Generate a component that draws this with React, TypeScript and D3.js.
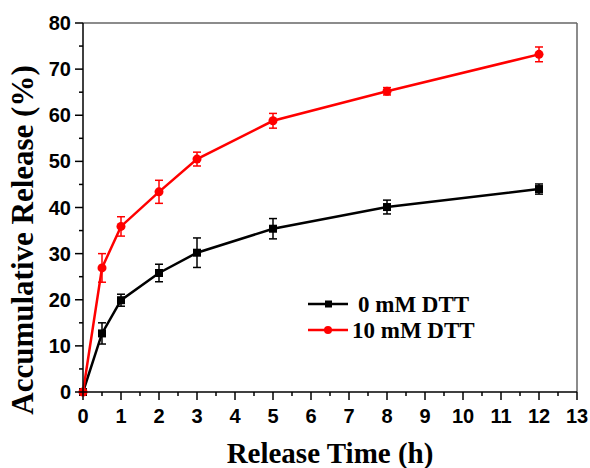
import React from "react";
import * as d3 from "d3";

const times = [0, 0.5, 1, 2, 3, 5, 8, 12];
const release0 = [0, 12.7, 19.9, 25.8, 30.2, 35.4, 40.1, 44.0];
const err0 = [0, 2.3, 1.3, 1.9, 3.2, 2.2, 1.5, 1.1];
const release10 = [0, 26.9, 35.9, 43.4, 50.5, 58.8, 65.2, 73.2];
const err10 = [0, 3.1, 2.1, 2.5, 1.5, 1.6, 0.8, 1.6];
const xTicks = d3.range(0, 14);
const yTicks = [0, 10, 20, 30, 40, 50, 60, 70, 80];
const seriesNames = ["0 mM DTT", "10 mM DTT"];
const colors = ["#000000", "#ff0000"];

const W = 590, H = 468;
const m = { left: 83, right: 13, top: 23, bottom: 76 };

export default function App() {
  const x = d3.scaleLinear().domain([0, 13]).range([m.left, W - m.right]);
  const y = d3.scaleLinear().domain([0, 80]).range([H - m.bottom, m.top]);
  const line = d3.line<number>().x((_, i) => x(times[i])).y(d => y(d));
  const series = [
    { vals: release0, errs: err0 },
    { vals: release10, errs: err10 },
  ];
  const tickFont = "Arial, 'Liberation Sans', sans-serif";
  const serif = "'Times New Roman', 'Liberation Serif', serif";
  const x0 = x(0), y0 = y(0);

  return (
    <svg width={W} height={H} style={{ position: "absolute", left: 0, top: 0, background: "#fff" }}>
      {/* frame */}
      <line x1={x0} x2={x(13)} y1={y(80)} y2={y(80)} stroke="#666" strokeWidth={1.5} />
      <line x1={x(13)} x2={x(13)} y1={y(80)} y2={y0} stroke="#666" strokeWidth={1.5} />

      {series.map((s, k) => (
        <g key={k}>
          <path d={line(s.vals) || ""} fill="none" stroke={colors[k]} strokeWidth={2.5} />
          {s.vals.map((v, i) =>
            s.errs[i] > 0 ? (
              <g key={i} stroke={colors[k]} strokeWidth={1.5}>
                <line x1={x(times[i])} x2={x(times[i])} y1={y(v - s.errs[i])} y2={y(v + s.errs[i])} />
                <line x1={x(times[i]) - 4} x2={x(times[i]) + 4} y1={y(v - s.errs[i])} y2={y(v - s.errs[i])} />
                <line x1={x(times[i]) - 4} x2={x(times[i]) + 4} y1={y(v + s.errs[i])} y2={y(v + s.errs[i])} />
              </g>
            ) : null
          )}
          {s.vals.map((v, i) =>
            k === 0 ? (
              <rect key={"m" + i} x={x(times[i]) - 4} y={y(v) - 4} width={8} height={8} fill={colors[k]} />
            ) : (
              <circle key={"m" + i} cx={x(times[i])} cy={y(v)} r={4.5} fill={colors[k]} />
            )
          )}
        </g>
      ))}

      {/* axes */}
      <line x1={x0} x2={x(13)} y1={y0} y2={y0} stroke="#000" strokeWidth={1.5} />
      <line x1={x0} x2={x0} y1={y0} y2={y(80)} stroke="#000" strokeWidth={1.5} />
      {xTicks.map(t => (
        <g key={t}>
          <line x1={x(t)} x2={x(t)} y1={y0} y2={y0 + 8} stroke="#000" strokeWidth={1.5} />
          {t < 13 && <line x1={x(t + 0.5)} x2={x(t + 0.5)} y1={y0} y2={y0 + 4} stroke="#000" strokeWidth={1.5} />}
          <text x={x(t)} y={y0 + 31} textAnchor="middle" fontFamily={tickFont} fontWeight="bold" fontSize={20}>{t}</text>
        </g>
      ))}
      {yTicks.map(t => (
        <g key={t}>
          <line x1={x0 - 8} x2={x0} y1={y(t)} y2={y(t)} stroke="#000" strokeWidth={1.5} />
          {t < 80 && <line x1={x0 - 4} x2={x0} y1={y(t + 5)} y2={y(t + 5)} stroke="#000" strokeWidth={1.5} />}
          <text x={x0 - 12} y={y(t) + 7} textAnchor="end" fontFamily={tickFont} fontWeight="bold" fontSize={20}>{t}</text>
        </g>
      ))}

      {/* titles */}
      <text x={330} y={463} textAnchor="middle" fontFamily={serif} fontWeight="bold" fontSize={29}>Release Time (h)</text>
      <text transform="translate(33,240) rotate(-90)" textAnchor="middle" fontFamily={serif} fontWeight="bold" fontSize={31}>Accumulative Release (%)</text>

      {/* legend */}
      {seriesNames.map((n, k) => {
        const ly = 304 + k * 26;
        return (
          <g key={n}>
            <line x1={308} x2={348} y1={ly} y2={ly} stroke={colors[k]} strokeWidth={2.5} />
            {k === 0 ? (
              <rect x={325} y={ly - 3.5} width={7} height={7} fill={colors[k]} />
            ) : (
              <circle cx={328} cy={ly} r={4} fill={colors[k]} />
            )}
            <text x={k === 0 ? 358 : 352} y={ly + 8} fontFamily={serif} fontWeight="bold" fontSize={23}>{n}</text>
          </g>
        );
      })}
    </svg>
  );
}
